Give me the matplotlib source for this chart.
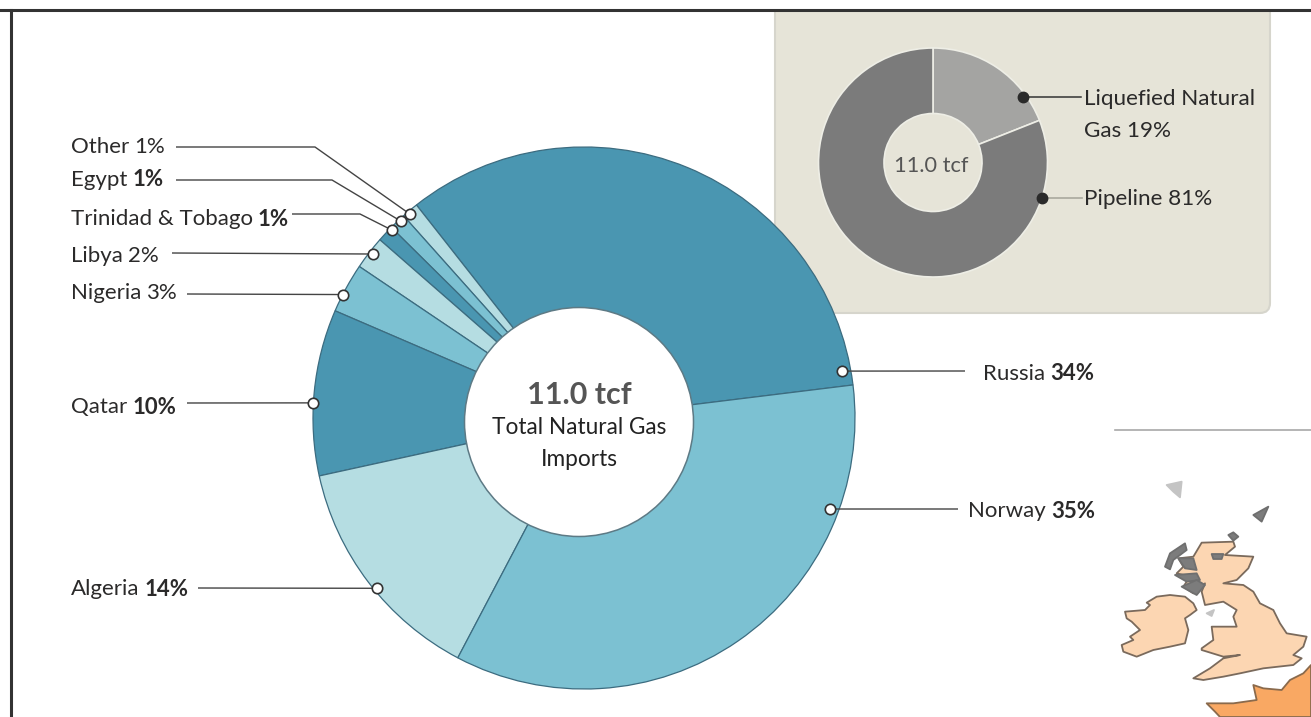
import math
import matplotlib
matplotlib.use("Agg")
import matplotlib.pyplot as plt
from matplotlib.patches import Circle, FancyBboxPatch, Polygon, Rectangle

plt.rcParams['font.family'] = ['Lato', 'Roboto', 'DejaVu Sans']

# import shares, counter-clockwise from the Russia slice
countries = ["Russia", "Other", "Egypt", "Trinidad & Tobago", "Libya", "Nigeria", "Qatar", "Algeria", "Norway"]
shares = [34, 1, 1, 1, 2, 3, 10, 14, 35]
bold_share = [True, False, True, True, False, False, True, True, True]
types = ["Liquefied Natural", "Pipeline"]
type_shares = [19, 81]
total_label = "11.0 tcf"

DARK = "#4a96b1"
MID = "#7cc1d2"
LIGHT = "#b5dde2"
slice_colors = [DARK, LIGHT, MID, DARK, LIGHT, MID, DARK, LIGHT, MID]
TEXT = "#2b2a2a"
H = 717


def py(y):
    # layout below is measured from the top edge
    return H - y


fig = plt.figure(figsize=(13.11, 7.17), dpi=100)
ax = fig.add_axes([0, 0, 1, 1])

# beige panel behind the small donut
panel = FancyBboxPatch((775, py(313)), 495, 340, boxstyle="round,pad=0,rounding_size=10",
                       fc="#e6e4d8", ec="#d6d5cc", lw=1.5, zorder=1)
ax.add_patch(panel)
ax.add_patch(Rectangle((0, py(9)), 1311, 9, fc="white", ec="none", zorder=2))

# main pie
cx, cy, r = 584, py(418), 271
wedges, _ = ax.pie(shares, colors=slice_colors, startangle=7, center=(cx, cy), radius=r, frame=True,
                   wedgeprops=dict(edgecolor="#3c6c80", linewidth=0.9, zorder=3))
ax.add_patch(Circle((579, py(422)), 114.5, fc="white", ec="#5d7a85", lw=1.1, zorder=4))

# small donut
scx, scy, sr = 933, py(162.5), 114.5
ax.pie(type_shares, colors=["#a4a4a2", "#7b7b7b"], startangle=90, counterclock=False,
       center=(scx, scy), radius=sr, frame=True,
       wedgeprops=dict(width=sr - 49, edgecolor="#eeeee6", linewidth=1.2, zorder=3))

ax.set_aspect("equal")
ax.set_xlim(0, 1311)
ax.set_ylim(0, H)
ax.axis("off")


def label(x, y, name, value, bold):
    # name in regular, percentage heavier, both on one baseline
    t = ax.text(x, py(y), name, fontsize=16, color=TEXT, va="center_baseline", ha="left", zorder=6)
    fig.canvas.draw()
    box = t.get_window_extent()
    ax.text(box.x1 + 5, py(y), f"{value}%", fontsize=16, color=TEXT, va="center_baseline", ha="left",
            fontweight="bold" if bold else "normal", zorder=6)


# leader dot position (angle, fraction of radius), then the elbow and text anchor
leaders = {
    "Russia": (10.3, 0.968, [(965, 371)], (983, 372)),
    "Other": (130.5, 0.99, [(315, 147), (176, 147)], (71, 145)),
    "Egypt": (132.9, 0.99, [(332, 180), (176, 180)], (71, 178)),
    "Trinidad & Tobago": (135.6, 0.99, [(360, 214), (292, 214)], (71, 217)),
    "Libya": (142.1, 0.985, [(172, 253)], (71, 254)),
    "Nigeria": (152.9, 1.0, [(187, 294)], (71, 291)),
    "Qatar": (176.8, 1.0, [(187, 403)], (71, 405)),
    "Algeria": (219.4, 0.99, [(198, 588)], (71, 587)),
    "Norway": (-20.3, 0.968, [(958, 509)], (968, 509)),
}

for name, value, bold in zip(countries, shares, bold_share):
    ang, frac, path, pos = leaders[name]
    dx = cx + r * frac * math.cos(math.radians(ang))
    dy = cy + r * frac * math.sin(math.radians(ang))
    xs = [dx] + [p[0] for p in path]
    ys = [dy] + [py(p[1]) for p in path]
    ax.plot(xs, ys, color="#444444", lw=1.0, zorder=5, solid_capstyle="butt")
    ax.plot([dx], [dy], "o", ms=7.5, mfc="white", mec="#333333", mew=1.2, zorder=6)
    label(pos[0], pos[1], name, value, bold)

ax.text(579, py(392), total_label, fontsize=22, fontweight="bold", color="#555555", ha="center", va="center_baseline", zorder=6)
ax.text(579, py(425), "Total Natural Gas", fontsize=16.3, color="#222222", ha="center", va="center_baseline", zorder=6)
ax.text(579, py(458), "Imports", fontsize=16.3, color="#222222", ha="center", va="center_baseline", zorder=6)

# small donut annotations
ax.plot([1023, 1081], [py(97), py(97)], color="#333333", lw=1.1, zorder=5)
ax.plot([1023], [py(97)], "o", ms=7.5, color="#2a2a2a", zorder=6)
ax.plot([1042, 1082], [py(198), py(198)], color="#a9a89e", lw=1.2, zorder=5)
ax.plot([1042], [py(198)], "o", ms=7.5, color="#2a2a2a", zorder=6)
ax.text(1084, py(97), types[0], fontsize=16.2, color=TEXT, va="center_baseline", ha="left", zorder=6)
ax.text(1084, py(129), f"Gas {type_shares[0]}%", fontsize=16.2, color=TEXT, va="center_baseline", ha="left", zorder=6)
ax.text(1084, py(197), f"{types[1]} {type_shares[1]}%", fontsize=16.2, color=TEXT, va="center_baseline", ha="left", zorder=6)
ax.text(931, py(164), total_label, fontsize=15.7, color="#555555", ha="center", va="center_baseline", zorder=6)


# map outlines, traced on a 3x grid anchored at the corner of the map box
def map_shape(points, fc, ec, lw=1.3, zorder=3):
    xy = [(1090 + x / 3, py(410 + y / 3)) for x, y in points]
    ax.add_patch(Polygon(xy, closed=True, fc=fc, ec=ec, lw=lw, zorder=zorder, joinstyle="round"))


ireland = [(105, 605), (165, 600), (180, 585), (170, 578), (200, 560), (240, 555), (285, 560), (310, 580),
           (320, 600), (300, 615), (285, 625), (295, 660), (285, 700), (240, 710), (190, 720), (140, 740),
           (100, 725), (95, 705), (130, 690), (120, 680), (150, 660), (125, 635), (110, 625)]
britain = [(335, 398), (430, 395), (435, 410), (405, 435), (490, 440), (475, 475), (440, 510), (400, 520),
           (460, 525), (490, 545), (510, 580), (550, 600), (570, 640), (590, 670), (650, 680), (640, 710),
           (610, 735), (635, 745), (610, 765), (520, 775), (450, 790), (400, 800), (340, 810), (310, 805),
           (360, 775), (400, 745), (450, 735), (400, 740), (335, 720), (335, 715), (370, 690), (365, 650),
           (440, 650), (430, 620), (440, 600), (400, 575), (345, 585), (335, 545), (345, 520), (310, 550),
           (280, 530), (300, 500), (260, 490), (280, 470), (265, 445), (310, 440)]
france = [(663, 765), (640, 790), (600, 810), (575, 840), (520, 835), (490, 825), (500, 870), (430, 880),
          (350, 880), (375, 905), (390, 921), (663, 921)]
# grey island clusters off the north and west coasts
islands = [
    [(225, 470), (240, 430), (285, 400), (290, 420), (250, 450), (240, 478)],
    [(415, 375), (430, 367), (445, 380), (430, 392)],
    [(490, 315), (535, 290), (515, 335)],
    [(265, 445), (310, 445), (320, 480), (285, 475)],
    [(255, 495), (320, 490), (330, 510), (290, 515)],
    [(275, 530), (320, 510), (345, 525), (320, 555)],
    [(365, 432), (400, 432), (395, 447), (370, 447)],
]
faint_islands = [
    [(230, 225), (275, 215), (270, 262), (250, 245)],
    [(350, 610), (372, 600), (365, 618)],
]

map_shape(ireland, "#fcd6b2", "#7a6a5c")
map_shape(britain, "#fcd6b2", "#7a6a5c")
map_shape(france, "#f9a863", "#8a6a4c")
for shape in islands:
    map_shape(shape, "#7c7c7c", "#6f6f6f", zorder=4)
for shape in faint_islands:
    map_shape(shape, "#c4c4c4", "#c4c4c4", zorder=4)

# thin rule above the map, then the black frame
ax.plot([1115, 1311], [py(430), py(430)], color="#a8a8a8", lw=1.2, zorder=3)
ax.plot([0, 1311], [py(9.5), py(9.5)], color="#333333", lw=2.2, zorder=7)
ax.plot([10.5, 10.5], [py(9.5), 0], color="#333333", lw=2.2, zorder=7)

fig.savefig("out.png", dpi=100)
